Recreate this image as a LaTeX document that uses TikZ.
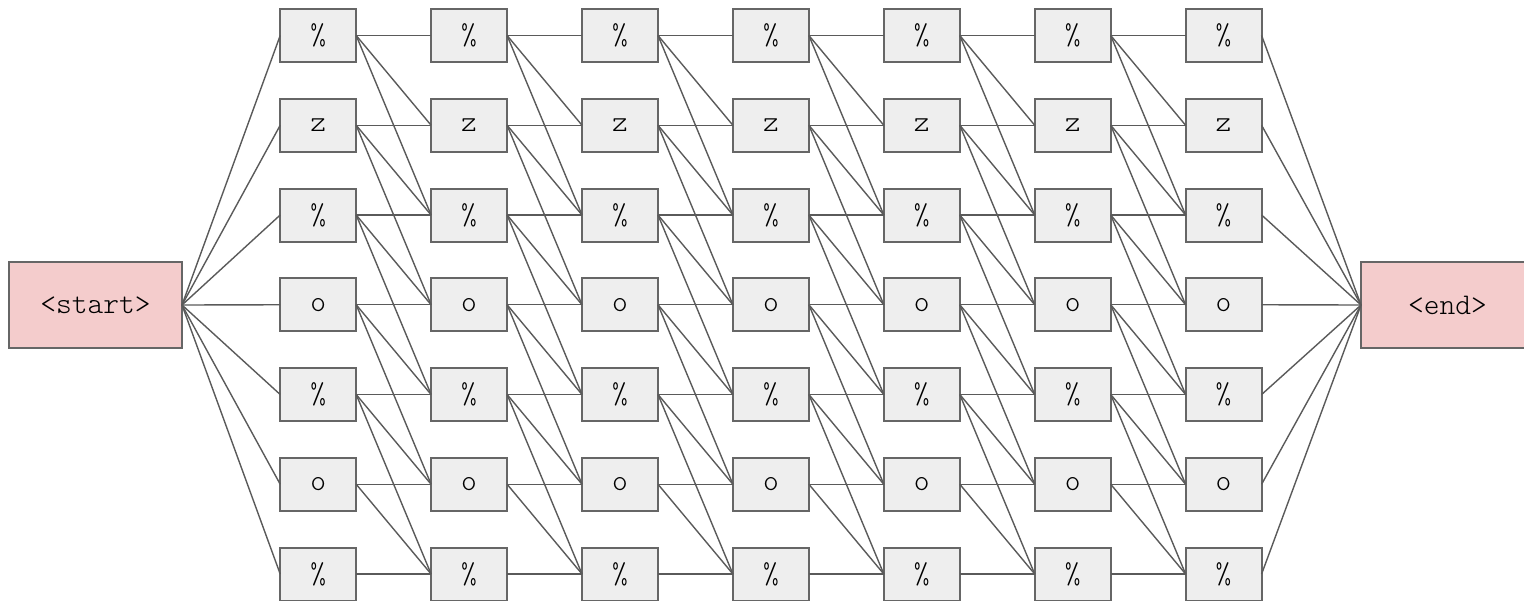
\documentclass[tikz,border=0pt]{standalone}
\definecolor{cellfill}{HTML}{EEEEEE}
\definecolor{cellborder}{HTML}{666666}
\definecolor{endfill}{HTML}{F4CCCC}
\definecolor{edgecol}{HTML}{5A5A5A}
\tikzset{lbl/.style={font=\ttfamily\fontseries{l}\fontsize{15pt}{17pt}\selectfont}}
\begin{document}
\begin{tikzpicture}[x=0.5pt,y=-0.5pt,
  cell/.style={lbl,draw=cellborder,fill=cellfill,line width=1pt,minimum width=38pt,minimum height=26.5pt,inner sep=0pt,outer sep=0pt},
  term/.style={lbl,draw=cellborder,fill=endfill,line width=1pt,minimum width=86.5pt,minimum height=43pt,inner sep=0pt,outer sep=0pt},
  link/.style={draw=edgecol,line width=0.7pt}]
\useasboundingbox (0,0) rectangle (1524,600);
\node[term] (start) at (95.5,305) {<start>};
\node[term] (end) at (1447.5,305) {<end>};
\foreach \c in {1,...,7}{
  \foreach \r/\t in {0/\%,1/z,2/\%,3/o,4/\%,5/o,6/\%}{
    \node[cell] (n\c-\r) at ({318.2+150.9*(\c-1)},{35.5+89.75*\r}) {\t};
  }
}
\foreach \r in {0,...,6}{
  \draw[link] (start.east) -- (n1-\r.west);
  \draw[link] (n7-\r.east) -- (end.west);
}
\foreach \c [evaluate=\c as \d using int(\c+1)] in {1,...,6}{
  \foreach \r in {0,...,6}{
    \foreach \k in {0,1,2}{
      \pgfmathtruncatemacro{\s}{\r+\k}
      \ifnum\s<7
        \draw[link] (n\c-\r.east) -- (n\d-\s.west);
      \fi
    }
  }
}
\end{tikzpicture}
\end{document}
